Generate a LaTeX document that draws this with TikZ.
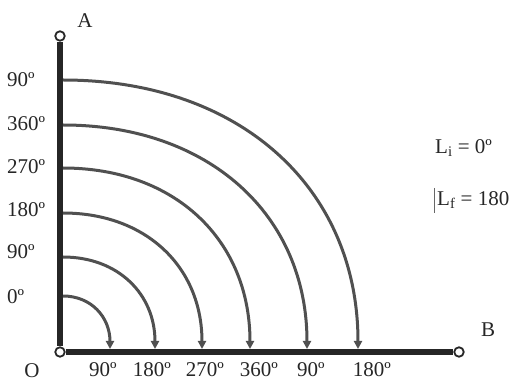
\documentclass[tikz,border=0pt]{standalone}
\usepackage{fontspec}
\setmainfont{Liberation Serif}
\usetikzlibrary{arrows.meta}
\definecolor{axiscol}{HTML}{262626}
\definecolor{curvecol}{HTML}{505050}
\definecolor{txtcol}{HTML}{262626}
\begin{document}
\begin{tikzpicture}[x=1pt,y=-1pt,
  axisline/.style={line width=5.5pt, draw=axiscol},
  curve/.style={line width=3pt, draw=curvecol, -{Triangle[length=8pt,width=8pt]}},
  endpt/.style={circle, draw=axiscol, fill=white, line width=1.8pt, minimum size=9.5pt, inner sep=0pt},
  lbl/.style={font=\fontsize{21}{21}\selectfont, text=txtcol, inner sep=0pt}]
\useasboundingbox (0,0) rectangle (512,382);
% end points of the axes
\node[endpt] (A0) at (60,36) {};
\node[endpt] (O0) at (60,352) {};
\node[endpt] (B0) at (459,352) {};
\draw[axisline] (A0) -- (O0);
\draw[axisline] (O0) -- (B0);
% axis labels
\node[lbl] (lA) at (85,21) {A};
\node[lbl] (lO) at (32,371) {O};
\node[lbl] (lB) at (488,330) {B};
% curve starts and ends
\coordinate (s1) at (63,296); \coordinate (e1) at (110,349);
\coordinate (s2) at (63,257); \coordinate (e2) at (155,349);
\coordinate (s3) at (63,213); \coordinate (e3) at (202,349);
\coordinate (s4) at (63,168); \coordinate (e4) at (250,349);
\coordinate (s5) at (63,125); \coordinate (e5) at (307,349);
\coordinate (s6) at (63,80);  \coordinate (e6) at (358,349);
\draw[curve] (s1) .. controls (91,296) and (110,317) .. (e1);
\draw[curve] (s2) .. controls (118,257) and (155,294) .. (e2);
\draw[curve] (s3) .. controls (146,213) and (202,267) .. (e3);
\draw[curve] (s4) .. controls (175,168) and (250,240) .. (e4);
\draw[curve] (s5) .. controls (209,125) and (307,215) .. (e5);
\draw[curve] (s6) .. controls (240,80) and (358,188) .. (e6);
% left labels
\node[lbl, anchor=west] (v1) at (7,297) {0º};
\node[lbl, anchor=west] (v2) at (7,252) {90º};
\node[lbl, anchor=west] (v3) at (7,210) {180º};
\node[lbl, anchor=west] (v4) at (7,167) {270º};
\node[lbl, anchor=west] (v5) at (7,124) {360º};
\node[lbl, anchor=west] (v6) at (7,80) {90º};
% bottom labels
\node[lbl] (h1) at (103,370) {90º};
\node[lbl] (h2) at (152,370) {180º};
\node[lbl] (h3) at (205,370) {270º};
\node[lbl] (h4) at (259,370) {360º};
\node[lbl] (h5) at (311,370) {90º};
\node[lbl] (h6) at (372,370) {180º};
% right labels
\node[lbl, anchor=west] (li) at (435,148) {L\textsubscript{i} = 0º};
\node[lbl, anchor=west] (lf) at (437,200) {L\textsubscript{f} = 180};
\draw[line width=1.2pt, draw=txtcol!70] (434.5,188) -- (434.5,213);
\end{tikzpicture}
\end{document}
